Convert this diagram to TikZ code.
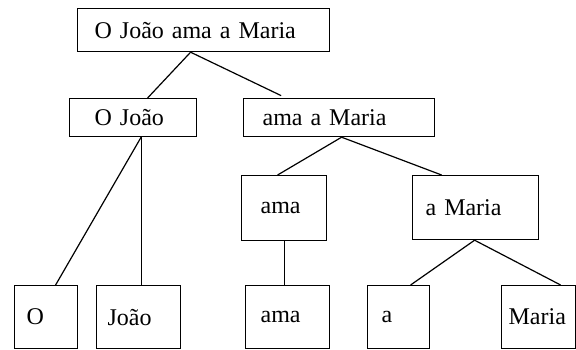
\documentclass[tikz,border=0pt]{standalone}
\usepackage{fontspec}
\setmainfont{Liberation Serif}
\usepackage{tikz}

\tikzset{wbox/.style={draw, line width=1.2pt, anchor=north west, align=left, inner ysep=0pt, font=\fontsize{24}{28}\selectfont}}

\begin{document}
\begin{tikzpicture}[x=1pt,y=1pt,yscale=-1,xscale=1, every path/.style={line width=1.2pt}]
\useasboundingbox (0,0) rectangle (576,349);

%Shape: Rectangle [id:s] 
\node [wbox, inner xsep=17pt, text width=218pt, minimum height=43pt] (s) at (77,8) {O João ama a Maria};
%Shape: Rectangle [id:oj] 
\node [wbox, inner xsep=25pt, text width=77pt, minimum height=38pt] (oj) at (69,98) {O João};
%Shape: Rectangle [id:aam] 
\node [wbox, inner xsep=19pt, text width=153pt, minimum height=38pt] (aam) at (243,98) {ama a Maria};
%Shape: Rectangle [id:amaA] 
\node [wbox, inner xsep=19pt, text width=47pt, minimum height=65pt] (amaA) at (241,175) {ama};
%Shape: Rectangle [id:am] 
\node [wbox, inner xsep=13pt, text width=100pt, minimum height=64pt] (am) at (412,175) {a Maria};

%Shape: Rectangle [id:o] 
\node [wbox, inner xsep=12pt, text width=39pt, minimum height=63pt] (o) at (14,285) {O};
%Shape: Rectangle [id:joao] 
\node [wbox, inner xsep=11pt, text width=62pt, minimum height=63pt] (joao) at (96,285) {João};
%Shape: Rectangle [id:amaB] 
\node [wbox, inner xsep=15pt, text width=54pt, minimum height=63pt] (amaB) at (245,285) {ama};
%Shape: Rectangle [id:a] 
\node [wbox, inner xsep=14pt, text width=34pt, minimum height=63pt] (a) at (367,285) {a};
%Shape: Rectangle [id:maria] 
\node [wbox, inner xsep=7pt, text width=60pt, minimum height=63pt] (maria) at (501,285) {Maria};

%Straight Lines [id:s-oj] 
\draw    ([xshift=-13]s.south) -- ([xshift=14.5]oj.north) ;
%Straight Lines [id:s-aam] 
\draw [shorten >=5.5pt]   ([xshift=-13]s.south) -- ([xshift=-53]aam.north) ;
%Straight Lines [id:oj-o] 
\draw    ([xshift=8]oj.south) -- ([xshift=9.5]o.north) ;
%Straight Lines [id:oj-joao] 
\draw    ([xshift=8]oj.south) -- ([xshift=2.5]joao.north) ;
%Straight Lines [id:aam-amaA] 
\draw    ([xshift=2.5]aam.south) -- ([xshift=-6.5]amaA.north) ;
%Straight Lines [id:aam-am] 
\draw    ([xshift=2.5]aam.south) -- ([xshift=-34]am.north) ;
%Straight Lines [id:amaA-amaB] 
\draw    (amaA.south) -- (amaA.south |- amaB.north) ;
%Straight Lines [id:am-a] 
\draw    ([xshift=-1]am.south) -- ([xshift=12]a.north) ;
%Straight Lines [id:am-maria] 
\draw    ([xshift=-1]am.south) -- ([xshift=22]maria.north) ;

\end{tikzpicture}
\end{document}
